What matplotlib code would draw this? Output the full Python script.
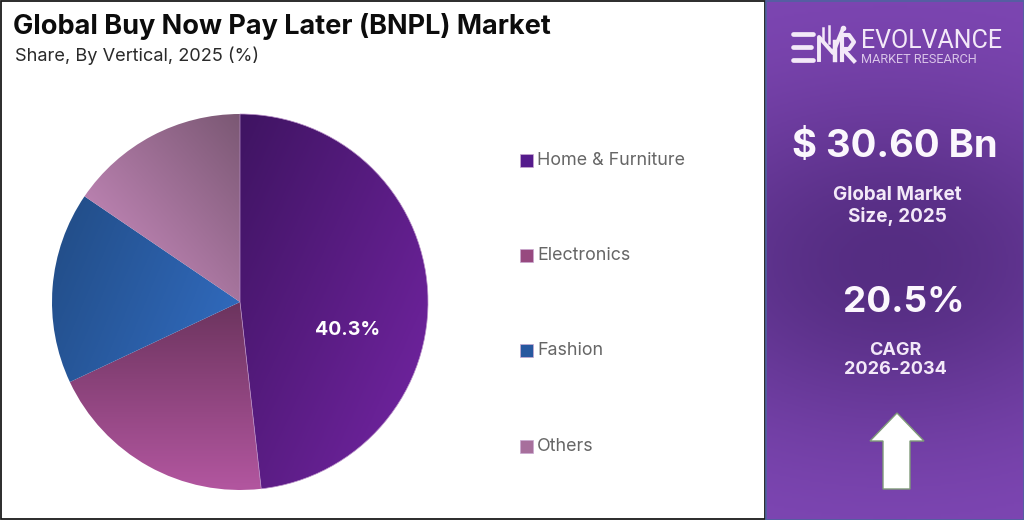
import numpy as np
import matplotlib
matplotlib.use("Agg")
import matplotlib.pyplot as plt
from matplotlib.colors import LinearSegmentedColormap
from matplotlib.patches import Polygon, Rectangle

# ======================
# 1. Data
# ======================
categories = ["Home & Furniture", "Electronics", "Fashion", "Others"]
# slice sizes as drawn in the picture (the label below is what the source prints)
shares = [48.2, 19.8, 16.5, 15.5]
slice_label = "40.3%"

title = "Global Buy Now Pay Later (BNPL) Market"
subtitle = "Share, By Vertical, 2025 (%)"
market_value = "$ 30.60 Bn"
market_caption = "Global Market\nSize, 2025"
cagr_value = "20.5%"
cagr_caption = "CAGR\n2026-2034"

# gradient per slice: start colour, end colour, direction (dx, dy in image rows)
slice_styles = [
    ("#3f1462", "#6b2299", (1.0, 0.45)),
    ("#6c345e", "#b2569f", (0.0, 1.0)),
    ("#234f8b", "#3069bb", (0.85, 0.35)),
    ("#7b5874", "#b880ae", (-0.75, 0.65)),
]
legend_colors = ["#551b8c", "#97497f", "#27589f", "#a76f9c"]

W, H = 1024, 520
FONT = "Inter"

fig = plt.figure(figsize=(W / 100, H / 100), dpi=100, facecolor="white")

# full-figure axes in pixel coordinates for the layout
ax = fig.add_axes([0, 0, 1, 1])
ax.set_xlim(0, W)
ax.set_ylim(H, 0)
ax.axis("off")

# ======================
# 2. Right panel
# ======================
px, py = np.meshgrid(np.linspace(766, 1024, 130), np.linspace(0, 520, 260))
dark = np.exp(-((px - 890) / 260) ** 2 - ((py - 262) / 175) ** 2)
panel_cmap = LinearSegmentedColormap.from_list("panel", ["#8048b6", "#552d82"])
ax.imshow(dark, extent=(766, 1024, 520, 0), cmap=panel_cmap, vmin=0, vmax=1,
          aspect="auto", zorder=1)
ax.set_xlim(0, W)
ax.set_ylim(H, 0)

ax.add_patch(Rectangle((0.5, 0.8), 764.5, 518, fill=False, ec="#1a1a1a", lw=1.3, zorder=2))
ax.add_patch(Rectangle((765.5, 0.5), 258, 519, fill=False, ec="#4f62a0", lw=1.2, zorder=2))

# logo
logo = "#f3e9f8"
for y0, x1 in ((34, 813), (47, 811), (60, 813)):
    ax.plot([793, x1], [y0, y0], color=logo, lw=3.4, solid_capstyle="round", zorder=3)
ax.plot([819, 819, 833, 842], [60, 37, 53, 31], color=logo, lw=2.8, zorder=3)
ax.plot([835, 835], [42, 60], color=logo, lw=3.2, zorder=3)
ax.plot([823, 823], [28, 40], color=logo, lw=1.8, zorder=3)
ax.plot([829, 829], [26, 43], color=logo, lw=1.8, zorder=3)
ax.plot([843], [28], "o", color=logo, ms=3, zorder=3)
ax.plot([842, 842], [60, 36], color=logo, lw=3.0, zorder=3)
ax.plot([842, 849, 854, 849, 843, 854], [35, 35, 42, 49, 49, 61], color=logo, lw=3.0, zorder=3)
ax.text(861, 48.5, "EVOLVANCE", family="Roboto", fontsize=18, color=logo, ha="left", va="baseline", zorder=3)
ax.text(861, 63, "MARKET RESEARCH", family="Roboto", fontsize=9.2, color="#d9c4e8", ha="left", va="baseline", zorder=3)

ax.text(895, 147, market_value, family=FONT, fontweight="bold", fontsize=27.5, color="#fbf7fd",
        ha="center", va="center", zorder=3)
ax.text(897, 206, market_caption, family=FONT, fontweight="bold", fontsize=13.6, color="#f3e9f8",
        ha="center", va="center", linespacing=1.18, zorder=3)
ax.text(904, 302, cagr_value, family=FONT, fontweight="bold", fontsize=26.5, color="#fbf7fd",
        ha="center", va="center", zorder=3)
ax.text(895, 360, cagr_caption, family=FONT, fontweight="bold", fontsize=13, color="#f3e9f8",
        ha="center", va="center", linespacing=1.2, zorder=3)

arrow = [(897, 413), (924, 441), (910, 441), (910, 489), (883, 489), (883, 441), (870, 441)]
ax.add_patch(Polygon(arrow, closed=True, fc="white", ec="#7f9a78", lw=1.0, zorder=3))

# ======================
# 3. Titles and legend
# ======================
ax.text(13, 26, title, family=FONT, fontweight="bold", fontsize=19.5, color="#0c0c0c",
        ha="left", va="center", zorder=3)
ax.text(15, 56, subtitle, family=FONT, fontsize=13.1, color="#2a2a2a",
        ha="left", va="center", zorder=3)

legend_y = [160, 255, 350, 446]
for name, color, y in zip(categories, legend_colors, legend_y):
    ax.add_patch(Rectangle((520, y - 6), 13, 13, fc=color, ec="#c9a8d0", lw=0.5, zorder=3))
    ax.text(537, y + 5, name, family=FONT, fontsize=12.9, color="#666666",
            ha="left", va="baseline", zorder=3)

# ======================
# 4. Pie
# ======================
cx, cy, r = 240, 302, 188
pie_ax = fig.add_axes([(cx - r) / W, 1 - (cy + r) / H, 2 * r / W, 2 * r / H])
wedges, _ = pie_ax.pie(shares, startangle=90, counterclock=False, radius=1,
                       wedgeprops={"linewidth": 0, "facecolor": "none"})
pie_ax.set_xlim(-1, 1)
pie_ax.set_ylim(-1, 1)

gx, gy = np.meshgrid(np.linspace(-1, 1, 400), np.linspace(-1, 1, 400))
for wedge, (c0, c1, (dx, dy)) in zip(wedges, slice_styles):
    # project the grid on the gradient direction, only inside this slice
    a0, a1 = np.radians(wedge.theta1), np.radians(wedge.theta2)
    ang = np.mod(np.arctan2(-gy, gx) - a0, 2 * np.pi)
    inside = (ang <= np.mod(a1 - a0, 2 * np.pi)) & (gx ** 2 + gy ** 2 <= 1)
    t = gx * dx + gy * dy
    t = (t - t[inside].min()) / (t[inside].max() - t[inside].min())
    cmap = LinearSegmentedColormap.from_list("s", [c0, c1])
    im = pie_ax.imshow(t, extent=(-1, 1, -1, 1), origin="upper", cmap=cmap, vmin=0, vmax=1,
                       aspect="auto", zorder=1, clip_on=True)
    im.set_clip_path(wedge)
    wedge.set_zorder(2)
pie_ax.set_xlim(-1, 1)
pie_ax.set_ylim(-1, 1)
pie_ax.axis("off")

# faint light edge on the big slice
wedges[0].set_edgecolor("#b990c8")
wedges[0].set_linewidth(0.5)

ax.set_zorder(0)
pie_ax.set_zorder(1)
pie_ax.text((348 - cx) / r, -(330 - cy) / r, slice_label, family=FONT, fontweight="bold",
            fontsize=14, color="white", ha="center", va="center", zorder=5)

fig.savefig("out.png", dpi=100)
